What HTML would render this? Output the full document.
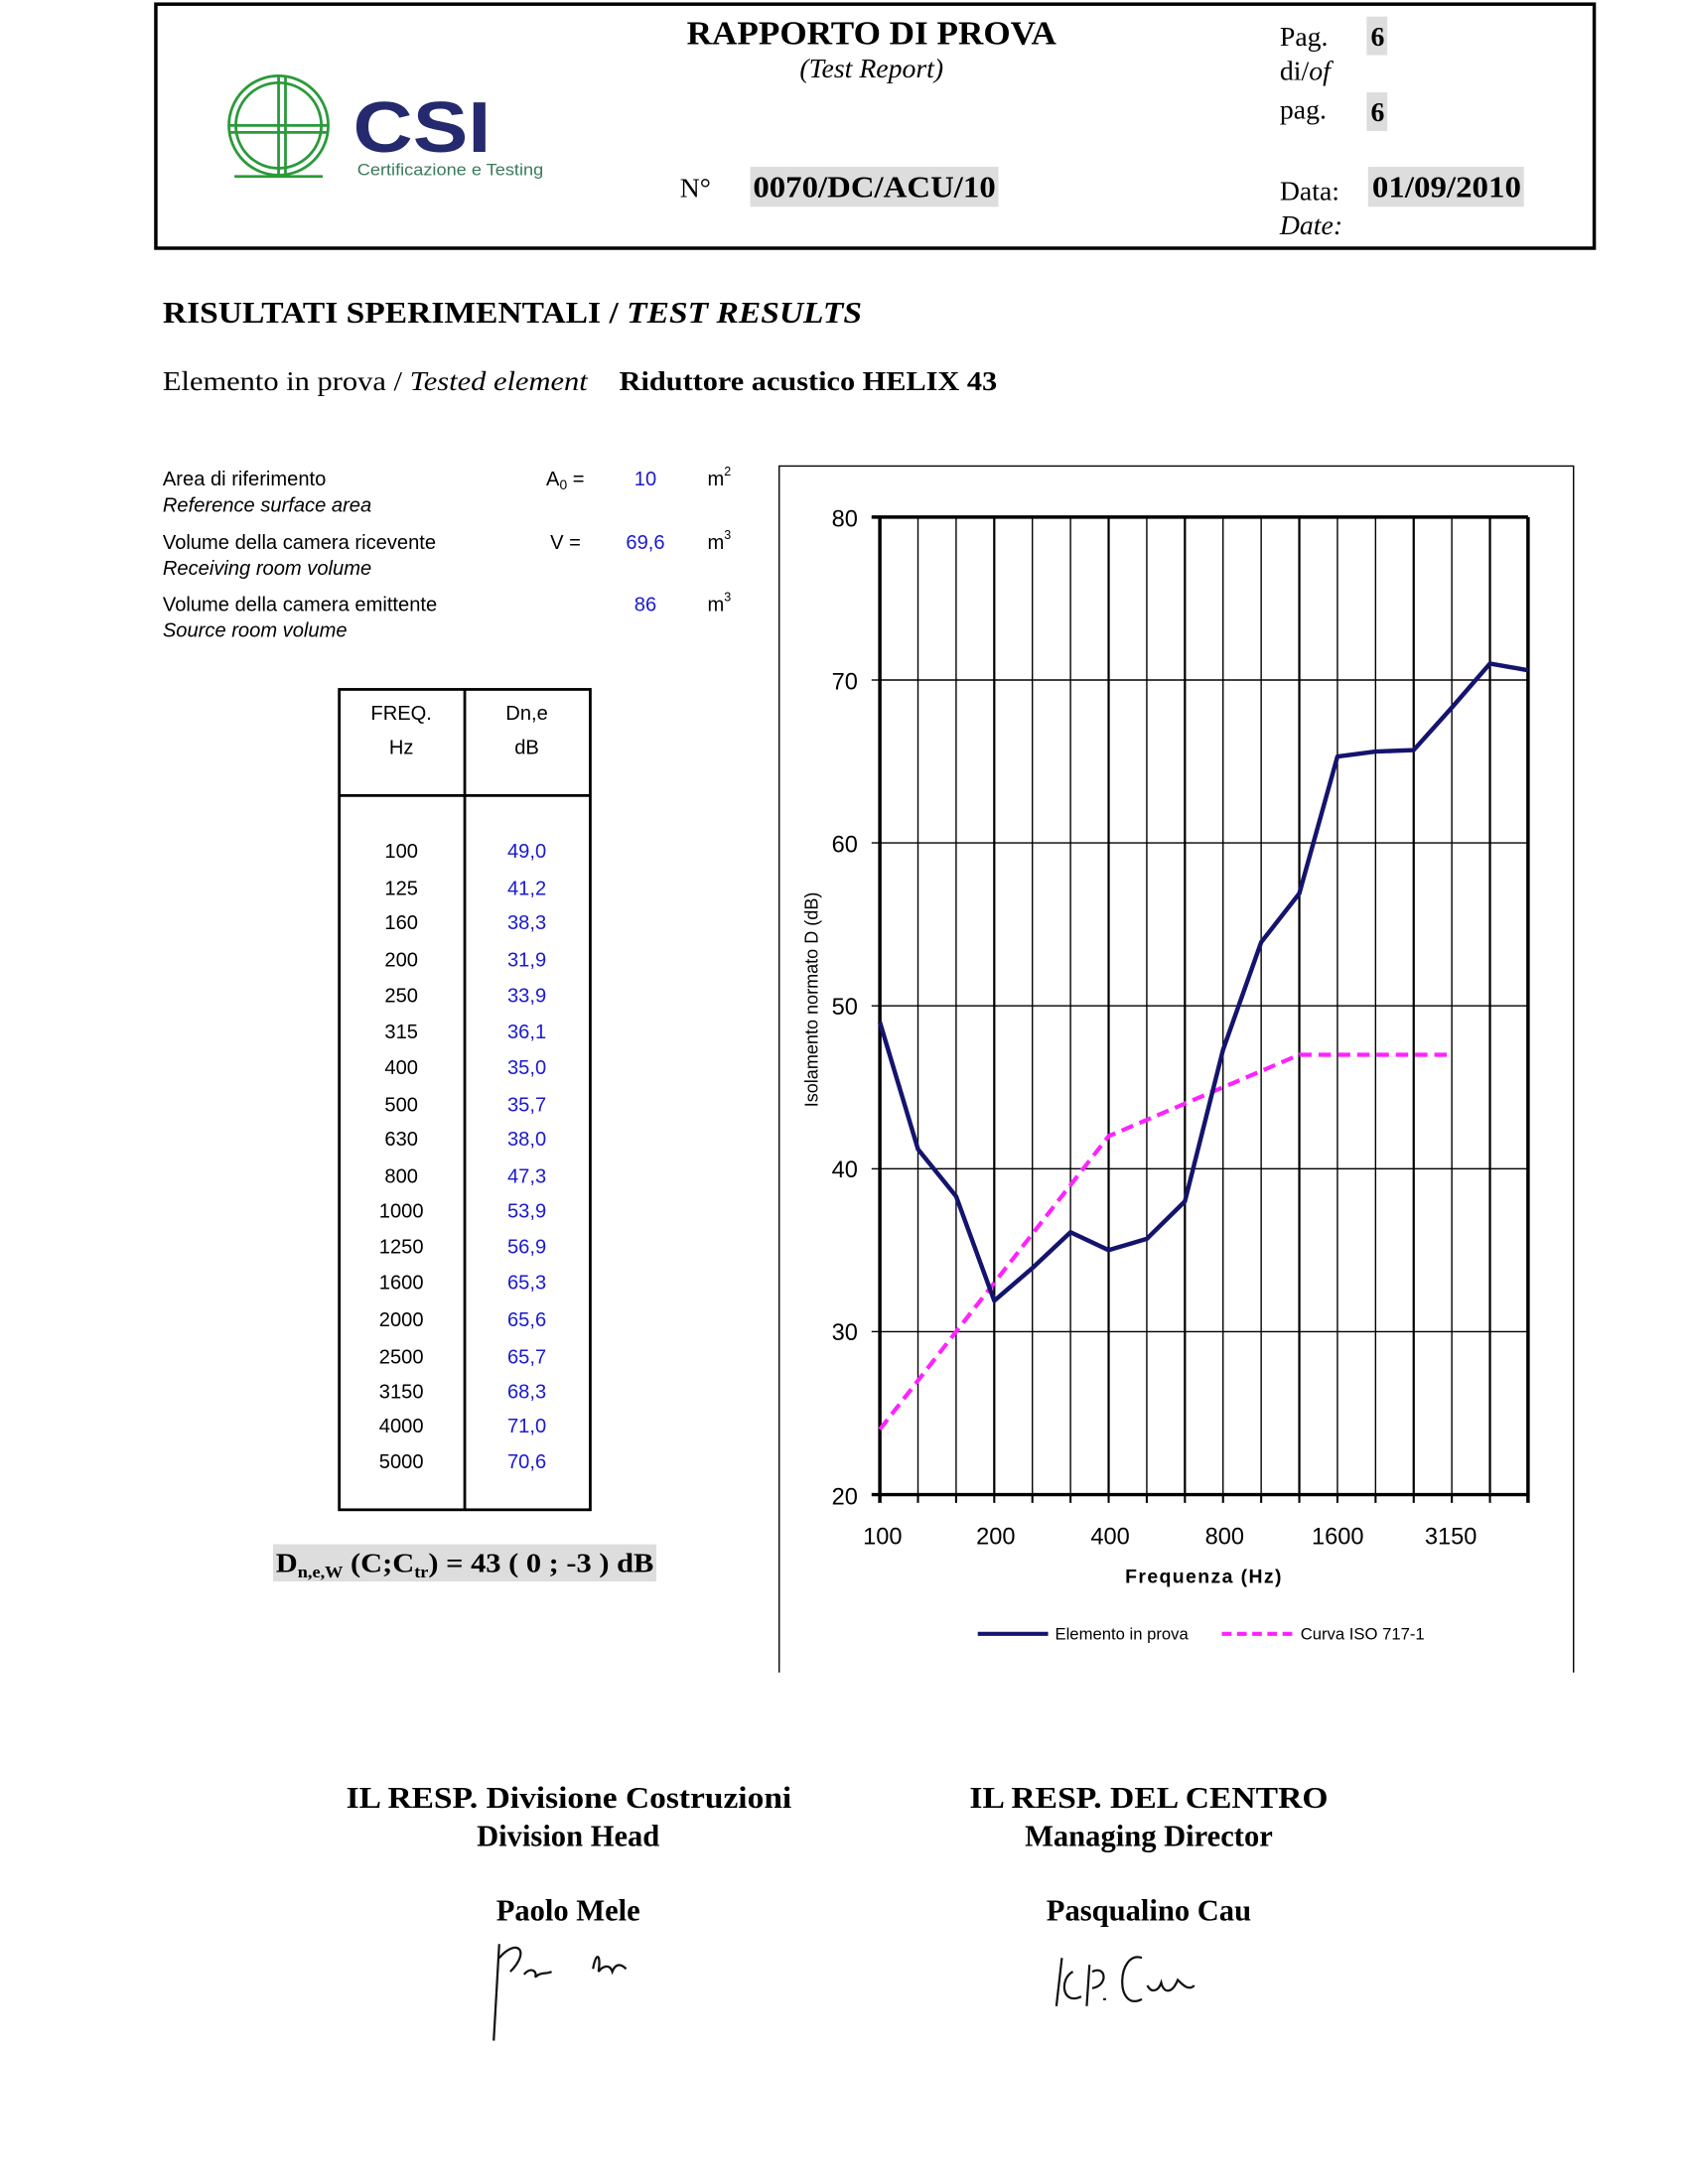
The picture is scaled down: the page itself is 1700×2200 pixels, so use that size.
<!DOCTYPE html>
<html><head><meta charset="utf-8"><style>
html,body{margin:0;padding:0;background:#fff;}
svg{display:block;}
.serif{font-family:"Liberation Serif",serif;}
.sans{font-family:"Liberation Sans",sans-serif;}
</style></head><body>
<svg width="1700" height="2200" viewBox="0 0 1224 1584" xmlns="http://www.w3.org/2000/svg">
<rect x="0" y="0" width="1224" height="1584" fill="#fff"/>
<rect x="113" y="3" width="1043" height="177" fill="none" stroke="#000" stroke-width="2.5"/>
<g fill="none" stroke="#2a9a3a" stroke-width="2">
<circle cx="202" cy="91" r="36"/><circle cx="202" cy="91" r="31"/>
<line x1="166" y1="91" x2="238" y2="91"/><line x1="166" y1="96" x2="238" y2="96"/>
<line x1="202" y1="55" x2="202" y2="127"/><line x1="207" y1="55" x2="207" y2="127"/>
<line x1="170" y1="128" x2="234" y2="128"/>
</g>
<text x="256" y="110" class="sans" font-size="52" font-weight="bold" fill="#252a6e" textLength="100" lengthAdjust="spacingAndGlyphs">CSI</text>
<text x="259" y="127" class="sans" font-size="12" fill="#3a7a5a" textLength="135" lengthAdjust="spacingAndGlyphs">Certificazione e Testing</text>
<text x="498" y="32" class="serif" font-size="24" font-weight="bold" textLength="268" lengthAdjust="spacingAndGlyphs">RAPPORTO DI PROVA</text>
<text x="632" y="56" class="serif" font-size="20" font-style="italic" text-anchor="middle">(Test Report)</text>
<text x="928" y="33" class="serif" font-size="20">Pag.</text>
<rect x="991" y="12" width="15" height="28" fill="#ddd"/><text x="994" y="33" class="serif" font-size="20" font-weight="bold">6</text>
<text x="928" y="58" class="serif" font-size="20">di/<tspan font-style="italic">of</tspan></text>
<text x="928" y="86" class="serif" font-size="20">pag.</text>
<rect x="991" y="67" width="15" height="28" fill="#ddd"/><text x="994" y="88" class="serif" font-size="20" font-weight="bold">6</text>
<text x="493" y="143" class="serif" font-size="20">N°</text>
<rect x="544" y="121" width="180" height="29" fill="#ddd"/><text x="546" y="143" class="serif" font-size="22" font-weight="bold" textLength="176" lengthAdjust="spacingAndGlyphs">0070/DC/ACU/10</text>
<text x="928" y="145" class="serif" font-size="20">Data:</text>
<rect x="992" y="121" width="113" height="29" fill="#ddd"/><text x="995" y="143" class="serif" font-size="22" font-weight="bold" textLength="108" lengthAdjust="spacingAndGlyphs">01/09/2010</text>
<text x="928" y="170" class="serif" font-size="20" font-style="italic">Date:</text>
<text x="118" y="234" class="serif" font-size="22" font-weight="bold" textLength="507" lengthAdjust="spacingAndGlyphs">RISULTATI SPERIMENTALI / <tspan font-style="italic">TEST RESULTS</tspan></text>
<text x="118" y="283" class="serif" font-size="20" textLength="308" lengthAdjust="spacingAndGlyphs">Elemento in prova / <tspan font-style="italic">Tested element</tspan></text>
<text x="449" y="283" class="serif" font-size="20" font-weight="bold" textLength="274" lengthAdjust="spacingAndGlyphs">Riduttore acustico HELIX 43</text>
<g class="sans" font-size="14.5">
<text x="118" y="352">Area di riferimento</text>
<text x="118" y="371" font-style="italic">Reference surface area</text>
<text x="118" y="398">Volume della camera ricevente</text>
<text x="118" y="417" font-style="italic">Receiving room volume</text>
<text x="118" y="443">Volume della camera emittente</text>
<text x="118" y="462" font-style="italic">Source room volume</text>
<text x="396" y="352">A<tspan font-size="10" dy="3">0</tspan><tspan dy="-3"> =</tspan></text>
<text x="399" y="398">V =</text>
<text x="468" y="352" fill="#1a1ad0" text-anchor="middle">10</text>
<text x="468" y="398" fill="#1a1ad0" text-anchor="middle">69,6</text>
<text x="468" y="443" fill="#1a1ad0" text-anchor="middle">86</text>
<text x="513" y="352">m<tspan font-size="9" dy="-7">2</tspan></text>
<text x="513" y="398">m<tspan font-size="9" dy="-7">3</tspan></text>
<text x="513" y="443">m<tspan font-size="9" dy="-7">3</tspan></text>
</g>
<rect x="246" y="500" width="182" height="595" fill="none" stroke="#000" stroke-width="2"/>
<line x1="337" y1="500" x2="337" y2="1095" stroke="#000" stroke-width="2"/>
<line x1="246" y1="577" x2="428" y2="577" stroke="#000" stroke-width="2"/>
<g class="sans" font-size="14.5" text-anchor="middle">
<text x="291" y="522">FREQ.</text><text x="291" y="547">Hz</text>
<text x="382" y="522">Dn,e</text><text x="382" y="547">dB</text>
<g>
<text x="291" y="622">100</text><text x="291" y="649">125</text><text x="291" y="674">160</text><text x="291" y="701">200</text><text x="291" y="727">250</text><text x="291" y="753">315</text><text x="291" y="779">400</text><text x="291" y="806">500</text><text x="291" y="831">630</text><text x="291" y="858">800</text><text x="291" y="883">1000</text><text x="291" y="909">1250</text><text x="291" y="935">1600</text><text x="291" y="962">2000</text><text x="291" y="989">2500</text><text x="291" y="1014">3150</text><text x="291" y="1039">4000</text><text x="291" y="1065">5000</text>
</g>
<g fill="#1a1ad0">
<text x="382" y="622">49,0</text><text x="382" y="649">41,2</text><text x="382" y="674">38,3</text><text x="382" y="701">31,9</text><text x="382" y="727">33,9</text><text x="382" y="753">36,1</text><text x="382" y="779">35,0</text><text x="382" y="806">35,7</text><text x="382" y="831">38,0</text><text x="382" y="858">47,3</text><text x="382" y="883">53,9</text><text x="382" y="909">56,9</text><text x="382" y="935">65,3</text><text x="382" y="962">65,6</text><text x="382" y="989">65,7</text><text x="382" y="1014">68,3</text><text x="382" y="1039">71,0</text><text x="382" y="1065">70,6</text>
</g>
</g>
<rect x="198" y="1120" width="278" height="27" fill="#ddd"/>
<text x="200" y="1140" class="serif" font-size="20" font-weight="bold" textLength="274" lengthAdjust="spacingAndGlyphs">D<tspan font-size="12" dy="4">n,e,W</tspan><tspan dy="-4"> (C;C</tspan><tspan font-size="12" dy="4">tr</tspan><tspan dy="-4">) = 43 ( 0 ; -3 ) dB</tspan></text>
<polyline points="565,1213 565,338 1141,338 1141,1213" fill="none" stroke="#000" stroke-width="1"/>
<g stroke="#000" stroke-width="1">
<line x1="665.65" y1="375" x2="665.65" y2="1084"/><line x1="693.3" y1="375" x2="693.3" y2="1084"/><line x1="720.95" y1="375" x2="720.95" y2="1084" stroke-width="1.6"/><line x1="748.6" y1="375" x2="748.6" y2="1084"/><line x1="776.25" y1="375" x2="776.25" y2="1084"/><line x1="803.9" y1="375" x2="803.9" y2="1084" stroke-width="1.6"/><line x1="831.55" y1="375" x2="831.55" y2="1084"/><line x1="859.2" y1="375" x2="859.2" y2="1084" stroke-width="1.6"/><line x1="886.85" y1="375" x2="886.85" y2="1084"/><line x1="914.5" y1="375" x2="914.5" y2="1084"/><line x1="942.15" y1="375" x2="942.15" y2="1084" stroke-width="1.6"/><line x1="969.8" y1="375" x2="969.8" y2="1084"/><line x1="997.45" y1="375" x2="997.45" y2="1084"/><line x1="1025.1" y1="375" x2="1025.1" y2="1084" stroke-width="1.6"/><line x1="1052.75" y1="375" x2="1052.75" y2="1084"/><line x1="1080.4" y1="375" x2="1080.4" y2="1084" stroke-width="1.6"/>
<line x1="638" y1="493.2" x2="1108" y2="493.2"/><line x1="638" y1="611.3" x2="1108" y2="611.3"/><line x1="638" y1="729.5" x2="1108" y2="729.5"/><line x1="638" y1="847.7" x2="1108" y2="847.7"/><line x1="638" y1="965.8" x2="1108" y2="965.8"/>
<line x1="632" y1="375" x2="1108" y2="375" stroke-width="2.5"/>
<line x1="632" y1="1084" x2="1108" y2="1084" stroke-width="2.5"/>
<line x1="638" y1="375" x2="638" y2="1090" stroke-width="2.5"/>
<line x1="1108" y1="375" x2="1108" y2="1090" stroke-width="2.5"/>
<line x1="632" y1="493.2" x2="638" y2="493.2"/><line x1="632" y1="611.3" x2="638" y2="611.3"/><line x1="632" y1="729.5" x2="638" y2="729.5"/><line x1="632" y1="847.7" x2="638" y2="847.7"/><line x1="632" y1="965.8" x2="638" y2="965.8"/>
</g>
<g stroke="#000" stroke-width="1.5">
<line x1="665.65" y1="1084" x2="665.65" y2="1090"/><line x1="693.3" y1="1084" x2="693.3" y2="1090"/><line x1="720.95" y1="1084" x2="720.95" y2="1090"/><line x1="748.6" y1="1084" x2="748.6" y2="1090"/><line x1="776.25" y1="1084" x2="776.25" y2="1090"/><line x1="803.9" y1="1084" x2="803.9" y2="1090"/><line x1="831.55" y1="1084" x2="831.55" y2="1090"/><line x1="859.2" y1="1084" x2="859.2" y2="1090"/><line x1="886.85" y1="1084" x2="886.85" y2="1090"/><line x1="914.5" y1="1084" x2="914.5" y2="1090"/><line x1="942.15" y1="1084" x2="942.15" y2="1090"/><line x1="969.8" y1="1084" x2="969.8" y2="1090"/><line x1="997.45" y1="1084" x2="997.45" y2="1090"/><line x1="1025.1" y1="1084" x2="1025.1" y2="1090"/><line x1="1052.75" y1="1084" x2="1052.75" y2="1090"/><line x1="1080.4" y1="1084" x2="1080.4" y2="1090"/>
</g>
<g class="sans" font-size="17" text-anchor="end">
<text x="622" y="382">80</text><text x="622" y="500">70</text><text x="622" y="618">60</text><text x="622" y="736">50</text><text x="622" y="854">40</text><text x="622" y="972">30</text><text x="622" y="1091">20</text>
</g>
<g class="sans" font-size="17" text-anchor="middle">
<text x="640" y="1120">100</text><text x="722" y="1120">200</text><text x="805" y="1120">400</text><text x="888" y="1120">800</text><text x="970" y="1120">1600</text><text x="1052" y="1120">3150</text>
</g>
<text x="873" y="1148" class="sans" font-size="14" font-weight="bold" text-anchor="middle" letter-spacing="1">Frequenza  (Hz)</text>
<text transform="translate(593,725) rotate(-90)" class="sans" font-size="13" text-anchor="middle">Isolamento normato D (dB)</text>
<polyline fill="none" stroke="#ff22ff" stroke-width="3" stroke-dasharray="9,5" points="638,1036.7 665.65,1001.3 693.3,965.8 720.95,930.4 748.6,894.9 776.25,859.5 803.9,824 831.55,812.2 859.2,800.4 886.85,788.6 914.5,776.8 942.15,765 969.8,765 997.45,765 1025.1,765 1052.75,765"/>
<polyline fill="none" stroke="#14146e" stroke-width="3.2" stroke-linejoin="round" points="638,741.3 665.65,833.5 693.3,867.7 720.95,943.4 748.6,919.7 776.25,893.7 803.9,906.7 831.55,898.5 859.2,871.3 886.85,761.4 914.5,683.4 942.15,648 969.8,548.7 997.45,545.1 1025.1,544 1052.75,513.2 1080.4,481.3 1108,486.1"/>
<line x1="709" y1="1185" x2="760" y2="1185" stroke="#14146e" stroke-width="3"/>
<text x="765" y="1189" class="sans" font-size="12">Elemento in prova</text>
<line x1="886" y1="1185" x2="938" y2="1185" stroke="#ff22ff" stroke-width="3" stroke-dasharray="7,4"/>
<text x="943" y="1189" class="sans" font-size="12">Curva ISO 717-1</text>
<g class="serif" font-size="22" font-weight="bold">
<text x="251" y="1311" textLength="323" lengthAdjust="spacingAndGlyphs">IL RESP. Divisione Costruzioni</text>
<text x="412" y="1339" text-anchor="middle">Division Head</text>
<text x="412" y="1393" text-anchor="middle">Paolo Mele</text>
<text x="703" y="1311" textLength="260" lengthAdjust="spacingAndGlyphs">IL RESP. DEL CENTRO</text>
<text x="833" y="1339" text-anchor="middle">Managing Director</text>
<text x="833" y="1393" text-anchor="middle">Pasqualino Cau</text>
</g>
<g fill="none" stroke="#111" stroke-width="1.6">
<path d="M358,1480 L362,1410 M362,1420 C375,1405 385,1415 370,1430 M380,1432 c5,-6 10,-2 8,2 c4,-4 8,-2 12,-4 M430,1428 c2,-12 6,-12 4,2 c3,-4 8,-6 10,0 c3,-8 8,-4 10,-2"/>
<path d="M766,1455 L770,1420 M778,1430 c-10,5 -8,25 6,18 M790,1425 L788,1455 M792,1430 c10,-5 12,10 0,12 M800,1450 l2,0 M828,1420 c-18,-6 -20,40 0,30 M832,1440 c3,6 8,4 10,-2 c2,8 8,8 12,-2 c4,4 8,8 12,4"/>
</g>
</svg>
</body></html>
